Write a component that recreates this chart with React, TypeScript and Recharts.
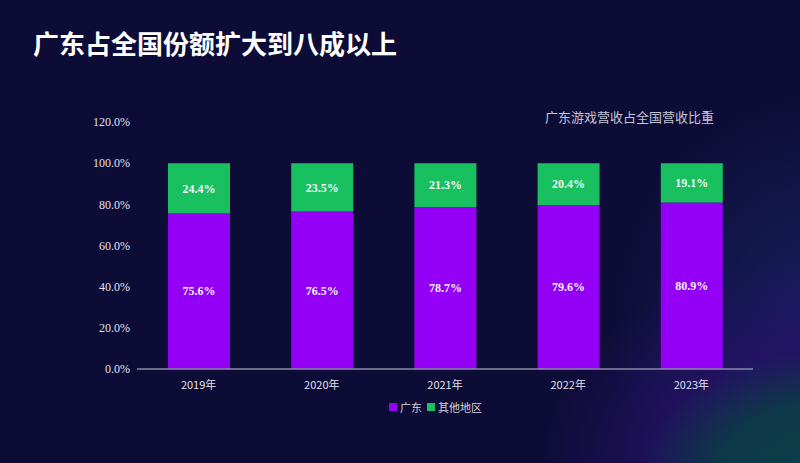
import React from "react";
import { BarChart, Bar, XAxis, YAxis, LabelList } from "recharts";

const years = ["2019年", "2020年", "2021年", "2022年", "2023年"];
const guangdong = [75.6, 76.5, 78.7, 79.6, 80.9];
const others = [24.4, 23.5, 21.3, 20.4, 19.1];
const yTicks = [0, 20, 40, 60, 80, 100, 120];

const PURPLE = "#9300f5";
const GREEN = "#18c05f";

const data = years.map((y, i) => ({ year: y, gd: guangdong[i], other: others[i] }));

const fmt = (v: any) => `${Number(v).toFixed(1)}%`;

export default function App() {
  return (
    <div
      style={{
        position: "fixed",
        left: 0,
        top: 0,
        width: 800,
        height: 463,
        overflow: "hidden",
        background:
          "radial-gradient(ellipse 190px 130px at 830px 480px, rgba(12,64,74,1) 0%, rgba(12,58,70,0.95) 60%, rgba(20,40,90,0) 100%), radial-gradient(ellipse 300px 210px at 840px 460px, rgba(42,18,110,1) 0%, rgba(36,18,100,0.8) 60%, rgba(13,12,54,0) 100%), radial-gradient(ellipse 220px 230px at 830px 320px, rgba(24,36,100,0.9) 0%, rgba(13,12,54,0) 100%), #0d0c36",
      }}
    >
      <div
        style={{
          position: "absolute",
          left: 33,
          top: 26,
          fontFamily: "'Noto Sans CJK SC', sans-serif",
          fontWeight: 700,
          fontSize: 26,
          color: "#ffffff",
          lineHeight: "34px",
          whiteSpace: "nowrap",
        }}
      >
        广东占全国份额扩大到八成以上
      </div>
      <div
        style={{
          position: "absolute",
          left: 545,
          top: 108,
          fontFamily: "'Noto Sans CJK SC', serif",
          fontSize: 13,
          color: "#c4c4d4",
          lineHeight: "18px",
          whiteSpace: "nowrap",
        }}
      >
        广东游戏营收占全国营收比重
      </div>
      <div style={{ position: "absolute", left: 0, top: 0 }}>
        <BarChart
          width={800}
          height={463}
          data={data}
          margin={{ top: 122, right: 47, bottom: 64, left: 0 }}
          barSize={62}
        >
          <XAxis
            dataKey="year"
            height={30}
            axisLine={{ stroke: "#8a8aa6", strokeWidth: 1.5 }}
            tickLine={false}
            tick={{ fill: "#e0e0ea", fontSize: 11, fontFamily: "'Noto Sans CJK SC', sans-serif" }}
            tickMargin={6}
          />
          <YAxis
            type="number"
            width={137}
            domain={[0, 120]}
            ticks={yTicks}
            axisLine={false}
            tickLine={false}
            tickMargin={1}
            tickFormatter={fmt}
            tick={{ fill: "#e0e0ea", fontSize: 12, fontFamily: "'Liberation Serif', serif" }}
          />
          <Bar dataKey="gd" stackId="a" fill={PURPLE} isAnimationActive={false}>
            <LabelList
              dataKey="gd"
              position="center"
              formatter={fmt}
              fill="#f4f4f8"
              fontSize={12}
              fontWeight={700}
              fontFamily="'Liberation Serif', serif"
            />
          </Bar>
          <Bar dataKey="other" stackId="a" fill={GREEN} isAnimationActive={false}>
            <LabelList
              dataKey="other"
              position="center"
              formatter={fmt}
              fill="#f4f4f8"
              fontSize={12}
              fontWeight={700}
              fontFamily="'Liberation Serif', serif"
            />
          </Bar>
        </BarChart>
      </div>
      <div
        style={{
          position: "absolute",
          left: 389,
          top: 399,
          display: "flex",
          alignItems: "center",
          fontFamily: "'Noto Sans CJK SC', sans-serif",
          fontSize: 11,
          color: "#d0d0dc",
          lineHeight: "16px",
          whiteSpace: "nowrap",
        }}
      >
        <span style={{ width: 8, height: 8, background: PURPLE, display: "inline-block", marginRight: 3 }} />
        <span style={{ marginRight: 5 }}>广东</span>
        <span style={{ width: 8, height: 8, background: GREEN, display: "inline-block", marginRight: 3 }} />
        <span>其他地区</span>
      </div>
    </div>
  );
}
